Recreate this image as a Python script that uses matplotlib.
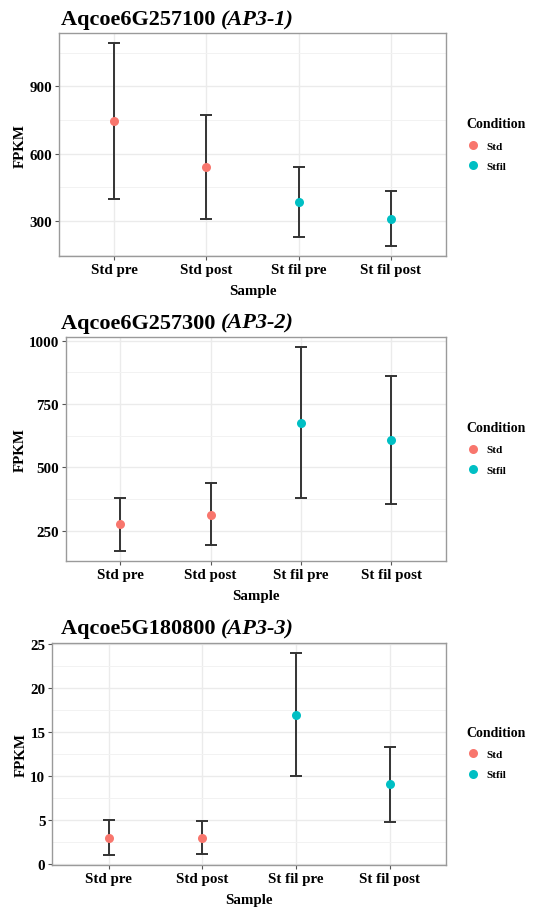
import matplotlib
matplotlib.use("Agg")
import matplotlib.pyplot as plt
from matplotlib.lines import Line2D
from matplotlib.ticker import MultipleLocator

plt.rcParams['font.family'] = ['Liberation Serif', 'DejaVu Serif']

samples = ["Std pre", "Std post", "St fil pre", "St fil post"]
conditions = ["Std", "Std", "Stfil", "Stfil"]
cond_colors = {"Std": "#F8766D", "Stfil": "#00BFC4"}

# Gene 1: Aqcoe6G257100 (AP3-1)
g1_mean = [744, 539, 386, 310]
g1_low = [398, 309, 230, 189]
g1_high = [1093, 774, 541, 432]

# Gene 2: Aqcoe6G257300 (AP3-2)
g2_mean = [275, 314, 677, 607]
g2_low = [172, 193, 380, 354]
g2_high = [378, 437, 974, 861]

# Gene 3: Aqcoe5G180800 (AP3-3)
g3_mean = [3.02, 3.0, 17.0, 9.09]
g3_low = [1.06, 1.13, 9.99, 4.79]
g3_high = [5.05, 4.94, 24.02, 13.39]

panels = [
    dict(gene="Aqcoe6G257100", alias="(AP3-1)", mean=g1_mean, low=g1_low, high=g1_high,
         rect=[0.1093, 0.7182, 0.7167, 0.2445], major=300, title_y=0.978, leg_y=0.875),
    dict(gene="Aqcoe6G257300", alias="(AP3-2)", mean=g2_mean, low=g2_low, high=g2_high,
         rect=[0.1222, 0.3841, 0.7032, 0.2450], major=250, title_y=0.645, leg_y=0.542),
    dict(gene="Aqcoe5G180800", alias="(AP3-3)", mean=g3_mean, low=g3_low, high=g3_high,
         rect=[0.0969, 0.0504, 0.7285, 0.2435], major=5, title_y=0.310, leg_y=0.208),
]

fig = plt.figure(figsize=(5.4, 9.12), dpi=100)

for p in panels:
    ax = fig.add_axes(p["rect"])
    x = list(range(len(samples)))
    lo_err = [m - l for m, l in zip(p["mean"], p["low"])]
    hi_err = [h - m for m, h in zip(p["mean"], p["high"])]
    ax.errorbar(x, p["mean"], yerr=[lo_err, hi_err], fmt="none", ecolor="#333333",
                elinewidth=1.4, capsize=4.5, capthick=1.4, zorder=2)
    for xi, m, c in zip(x, p["mean"], conditions):
        ax.plot(xi, m, "o", color=cond_colors[c], markersize=6.5, markeredgewidth=0, zorder=3)

    lo, hi = min(p["low"]), max(p["high"])
    pad = (hi - lo) * 0.05
    ax.set_ylim(lo - pad, hi + pad)
    ax.set_xlim(-0.6, 3.6)
    ax.yaxis.set_major_locator(MultipleLocator(p["major"]))
    ax.yaxis.set_minor_locator(MultipleLocator(p["major"] / 2))
    ax.set_xticks(x)
    ax.set_xticklabels(samples)

    ax.grid(True, which="major", color="#EBEBEB", linewidth=1.0, zorder=0)
    ax.grid(True, which="minor", axis="y", color="#F2F2F2", linewidth=0.7, zorder=0)
    ax.set_axisbelow(True)
    for s in ax.spines.values():
        s.set_color("#9A9A9A")
        s.set_linewidth(1.0)
    ax.tick_params(axis="both", which="major", length=3, color="#555555", width=0.8,
                   labelsize=10.8, pad=2)
    ax.tick_params(axis="both", which="minor", length=0)
    for lab in ax.get_xticklabels() + ax.get_yticklabels():
        lab.set_fontweight("bold")
        lab.set_color("black")

    ax.set_xlabel("Sample", fontsize=10.8, fontweight="bold", labelpad=6)
    ax.set_ylabel("FPKM", fontsize=10.8, fontweight="bold", labelpad=1.5)

    t = fig.text(0.113, p["title_y"], p["gene"] + " ", fontsize=16, fontweight="bold",
                 ha="left", va="center")
    fig.canvas.draw()
    bb = t.get_window_extent()
    fig.text(bb.x1 / fig.bbox.width, p["title_y"], p["alias"], fontsize=16,
             fontweight="bold", fontstyle="italic", ha="left", va="center")

    handles = [Line2D([], [], marker="o", linestyle="none", color=cond_colors[k],
                      markersize=6.5, markeredgewidth=0) for k in ["Std", "Stfil"]]
    leg = fig.legend(handles, ["Std", "Stfil"], title="Condition",
                     loc="upper left", bbox_to_anchor=(0.855, p["leg_y"]),
                     frameon=False, prop={"size": 8, "weight": "bold"},
                     title_fontproperties={"size": 10, "weight": "bold"},
                     handletextpad=0.6, labelspacing=0.95, borderaxespad=0,
                     handlelength=1.2)
    leg._legend_box.align = "left"

fig.savefig("out.png", dpi=100)
